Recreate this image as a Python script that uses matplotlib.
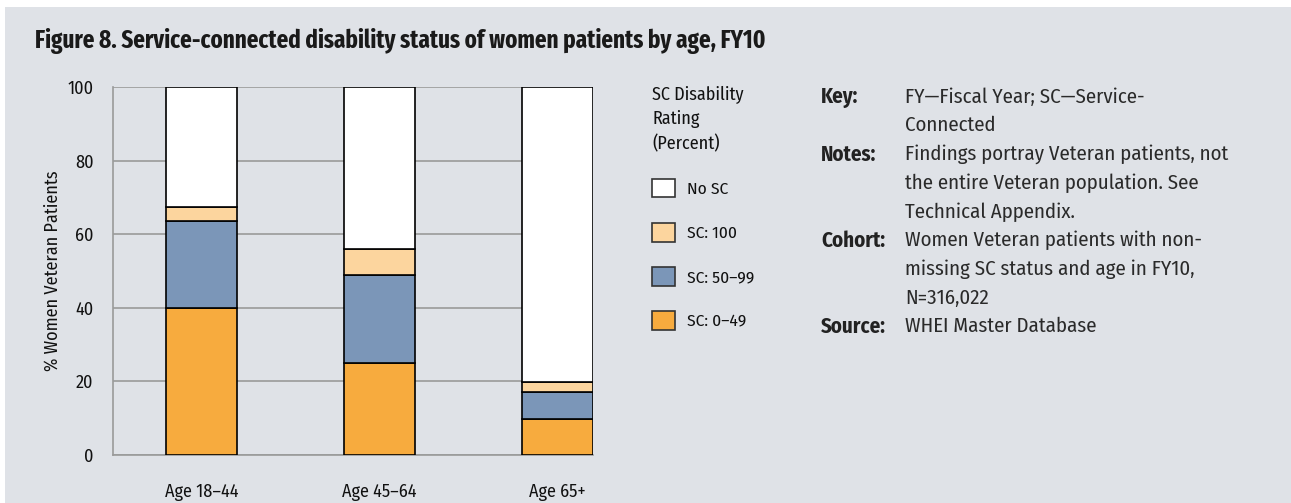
import matplotlib
matplotlib.use('Agg')
import matplotlib.pyplot as plt
from matplotlib.patches import Rectangle, Patch

# 数据
ages = ['Age 18–44', 'Age 45–64', 'Age 65+']
sc_0_49 = [40.0, 25.0, 9.8]
sc_50_99 = [23.7, 24.0, 7.3]
sc_100 = [3.7, 7.0, 2.8]
no_sc = [100 - a - b - c for a, b, c in zip(sc_0_49, sc_50_99, sc_100)]

series = [('SC: 0–49', sc_0_49, '#f7ab3e'),
          ('SC: 50–99', sc_50_99, '#7b96b8'),
          ('SC: 100', sc_100, '#fcd59e'),
          ('No SC', no_sc, '#ffffff')]

key_rows = [('Key:', 'FY—Fiscal Year; SC—Service-\nConnected'),
            ('Notes:', 'Findings portray Veteran patients, not\nthe entire Veteran population. See\nTechnical Appendix.'),
            ('Cohort:', 'Women Veteran patients with non-\nmissing SC status and age in FY10,\nN=316,022'),
            ('Source:', 'WHEI Master Database')]

# 字体：窄体
chart_font = ['Fira Sans Condensed', 'DejaVu Sans']
note_font = ['Fira Sans Condensed', 'DejaVu Sans']
title_font = ['Fira Sans Extra Condensed', 'DejaVu Sans']
plt.rcParams['font.family'] = chart_font

bg = '#dfe2e7'
W, H = 1291, 503
fig = plt.figure(figsize=(W / 100, H / 100), dpi=100)
fig.patch.set_facecolor('white')
fig.patches.append(Rectangle((5 / W, 0), 1, 1 - 7 / H, transform=fig.transFigure,
                             facecolor=bg, edgecolor='none', zorder=-10))

ax = fig.add_axes([113 / W, (H - 455) / H, 480 / W, 368 / H])
ax.set_facecolor(bg)
x = range(len(ages))
bottom = [0, 0, 0]
for name, vals, col in series:
    ax.bar(x, vals, 0.4, bottom=bottom, color=col, edgecolor='black', linewidth=1.2, zorder=3)
    bottom = [b + v for b, v in zip(bottom, vals)]

ax.set_xlim(-0.5, 2.2)
ax.set_ylim(0, 100)
ax.set_yticks(range(0, 101, 20))
ax.grid(axis='y', color='#9a9a9a', linewidth=1.2, zorder=0)
for s in ['top', 'right']:
    ax.spines[s].set_visible(False)
for s in ['left', 'bottom']:
    ax.spines[s].set_color('#9a9a9a')
    ax.spines[s].set_linewidth(1.2)
ax.set_xticks(list(x))
ax.set_xticklabels(ages)
ax.tick_params(axis='x', length=0, pad=20, labelsize=13, labelcolor='#111111')
ax.tick_params(axis='y', length=0, pad=14, labelsize=13, labelcolor='#111111')
ax.set_ylabel('% Women Veteran Patients', fontsize=13, labelpad=4, color='#111111')

# 图例
handles = [Patch(facecolor=col, edgecolor='#333333', linewidth=1.2, label=name)
           for name, vals, col in reversed(series)]
leg = fig.legend(handles=handles, title='SC Disability\nRating\n(Percent)',
                 loc='upper left', bbox_to_anchor=(652 / W, 1 - 86 / H),
                 frameon=False, fontsize=12.5, title_fontsize=13,
                 handlelength=1.3, handleheight=1.3, labelspacing=1.45,
                 handletextpad=0.7, borderpad=0, borderaxespad=0, alignment='left')
leg.get_title().set_linespacing(1.45)
leg.get_title().set_color('#111111')
for t in leg.get_texts():
    t.set_color('#111111')

fig.text(35 / W, 1 - 41 / H,
         'Figure 8. Service-connected disability status of women patients by age, FY10',
         fontsize=18, fontweight='bold', va='center', ha='left', color='#1a1a1a',
         family=title_font)

lh = 28.7
line = 0
for lab, txt in key_rows:
    fig.text(821 / W, 1 - (97 + line * lh) / H, lab, fontsize=15, fontweight='bold',
             va='center', ha='left', color='#222222', family=note_font)
    for i, t in enumerate(txt.split('\n')):
        fig.text(905 / W, 1 - (97 + (line + i) * lh) / H, t, fontsize=15,
                 va='center', ha='left', color='#2a2a2a', family=note_font)
    line += len(txt.split('\n'))

fig.savefig('out.png', dpi=100, facecolor=fig.get_facecolor())
